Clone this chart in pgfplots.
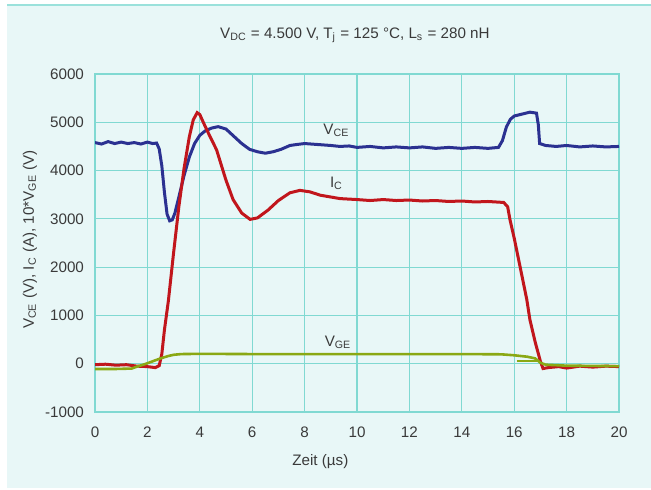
\documentclass[border=0pt]{standalone}
\usepackage{pgfplots}
\pgfplotsset{compat=1.18}
\usepackage{fontspec}
\setmainfont{Liberation Sans}

\definecolor{bgc}{HTML}{E8F7F7}
\definecolor{gridc}{HTML}{80D9D2}
\definecolor{txtc}{HTML}{3A3A3A}
\definecolor{vce}{HTML}{2B3191}
\definecolor{ic}{HTML}{C1161C}
\definecolor{vge}{HTML}{8AA814}

\begin{document}
\begin{tikzpicture}
\useasboundingbox (0,0) rectangle (325.5pt,-244.5pt);
\fill[bgc] (3.5pt,-2.5pt) rectangle (325.5pt,-244pt);
\draw[gridc!80, line width=1pt] (3.5pt,-2.5pt) -- (325.5pt,-2.5pt);

\begin{axis}[
    at={(47.5pt,-206pt)}, anchor=south west,
    width=262pt, height=169pt, scale only axis,
    xmin=0, xmax=20, ymin=-1000, ymax=6000,
    xtick={0,2,...,20}, ytick={-1000,0,...,6000},
    grid=major,
    major grid style={gridc, line width=0.6pt},
    axis line style={gridc, line width=0.8pt},
    major tick length=0pt,
    font=\fontsize{7.6}{9}\selectfont\color{txtc},
    /pgf/number format/assume math mode=true,
    /pgf/number format/1000 sep={},
    xticklabel style={yshift=-4pt},
    yticklabel style={xshift=-2pt},
    title={V\textsubscript{DC} = 4.500 V, T\textsubscript{j} = 125 °C, L\textsubscript{s} = 280 nH},
    title style={at={(axis description cs:0.496,1.08)}, anchor=center},
    xlabel={Zeit (µs)},
    xlabel style={at={(axis description cs:0.43,-0.148)}, anchor=center},
    ylabel={V\textsubscript{CE} (V), I\textsubscript{C} (A), 10*V\textsubscript{GE} (V)},
    ylabel style={at={(axis description cs:-0.124,0.51)}, anchor=center},
]
% V_CE
\addplot[vce, line width=1.5pt] coordinates {
(0,4580)(0.25,4550)(0.5,4600)(0.75,4560)(1.0,4590)(1.25,4560)(1.5,4580)(1.75,4550)(2.0,4590)(2.2,4560)(2.35,4570)
(2.45,4450)(2.55,4100)(2.65,3550)(2.75,3100)(2.85,2960)(2.95,2980)(3.05,3120)(3.2,3450)(3.4,3900)(3.6,4280)
(3.8,4560)(4.0,4730)(4.2,4820)(4.45,4880)(4.7,4910)(5.0,4860)(5.3,4710)(5.6,4560)(5.9,4440)(6.2,4390)
(6.5,4360)(6.8,4390)(7.1,4440)(7.44,4520)(7.7,4540)(8.0,4560)(8.5,4540)(9.0,4520)(9.35,4500)(9.7,4510)
(10,4480)(10.5,4500)(11,4470)(11.5,4490)(12,4470)(12.5,4490)(13,4460)(13.5,4480)(14,4460)(14.5,4480)
(15,4460)(15.4,4480)(15.55,4620)(15.7,4900)(15.85,5060)(16.0,5130)(16.3,5170)(16.6,5210)(16.85,5190)
(16.92,4950)(16.97,4560)(17.2,4520)(17.6,4500)(18,4520)(18.5,4490)(19,4510)(19.5,4490)(20,4500)
};
% I_C
\addplot[ic, line width=1.5pt] coordinates {
(0,-20)(0.4,-10)(0.8,-30)(1.2,-20)(1.6,-50)(2.0,-60)(2.3,-80)(2.45,-40)(2.55,200)(2.65,700)(2.8,1300)
(3.0,2300)(3.2,3250)(3.4,4050)(3.6,4700)(3.75,5050)(3.9,5200)(4.0,5160)(4.15,4980)(4.35,4750)(4.64,4430)
(5.0,3800)(5.27,3400)(5.6,3120)(5.92,2990)(6.2,3020)(6.6,3180)(7.0,3380)(7.44,3540)(7.82,3590)(8.2,3560)
(8.6,3490)(9.35,3420)(10,3400)(10.5,3380)(11,3400)(11.5,3380)(12,3390)(12.5,3370)(13,3380)(13.5,3360)
(14,3370)(14.5,3350)(15,3360)(15.6,3340)(15.75,3250)(15.84,2980)(16.0,2600)(16.22,2020)(16.48,1330)
(16.6,910)(16.8,450)(17.0,50)(17.1,-100)(17.3,-80)(17.7,-60)(18,-90)(18.5,-50)(19,-70)(19.5,-50)(20,-60)
};
% V_GE
\addplot[vge, line width=1.3pt] coordinates {
(0,-110)(0.7,-110)(1.4,-100)(1.6,-60)(1.9,-10)(2.2,50)(2.5,110)(2.8,160)(3.0,185)(3.3,200)(4,205)
(6,200)(8,200)(10,200)(12,200)(14,200)(15.5,195)(16.0,175)(16.5,145)(16.8,110)(17.0,20)(17.2,-20)
(18,-40)(19,-45)(20,-50)
};
\addplot[vge, line width=1.3pt] coordinates {(16.1,60)(16.9,60)};

\node[anchor=base west] at (axis cs:8.45,4740) {V\textsubscript{CE}};
\node[anchor=base west] at (axis cs:8.7,3650) {I\textsubscript{C}};
\node[anchor=base west] at (axis cs:8.5,350) {V\textsubscript{GE}};
\end{axis}
\end{tikzpicture}
\end{document}
